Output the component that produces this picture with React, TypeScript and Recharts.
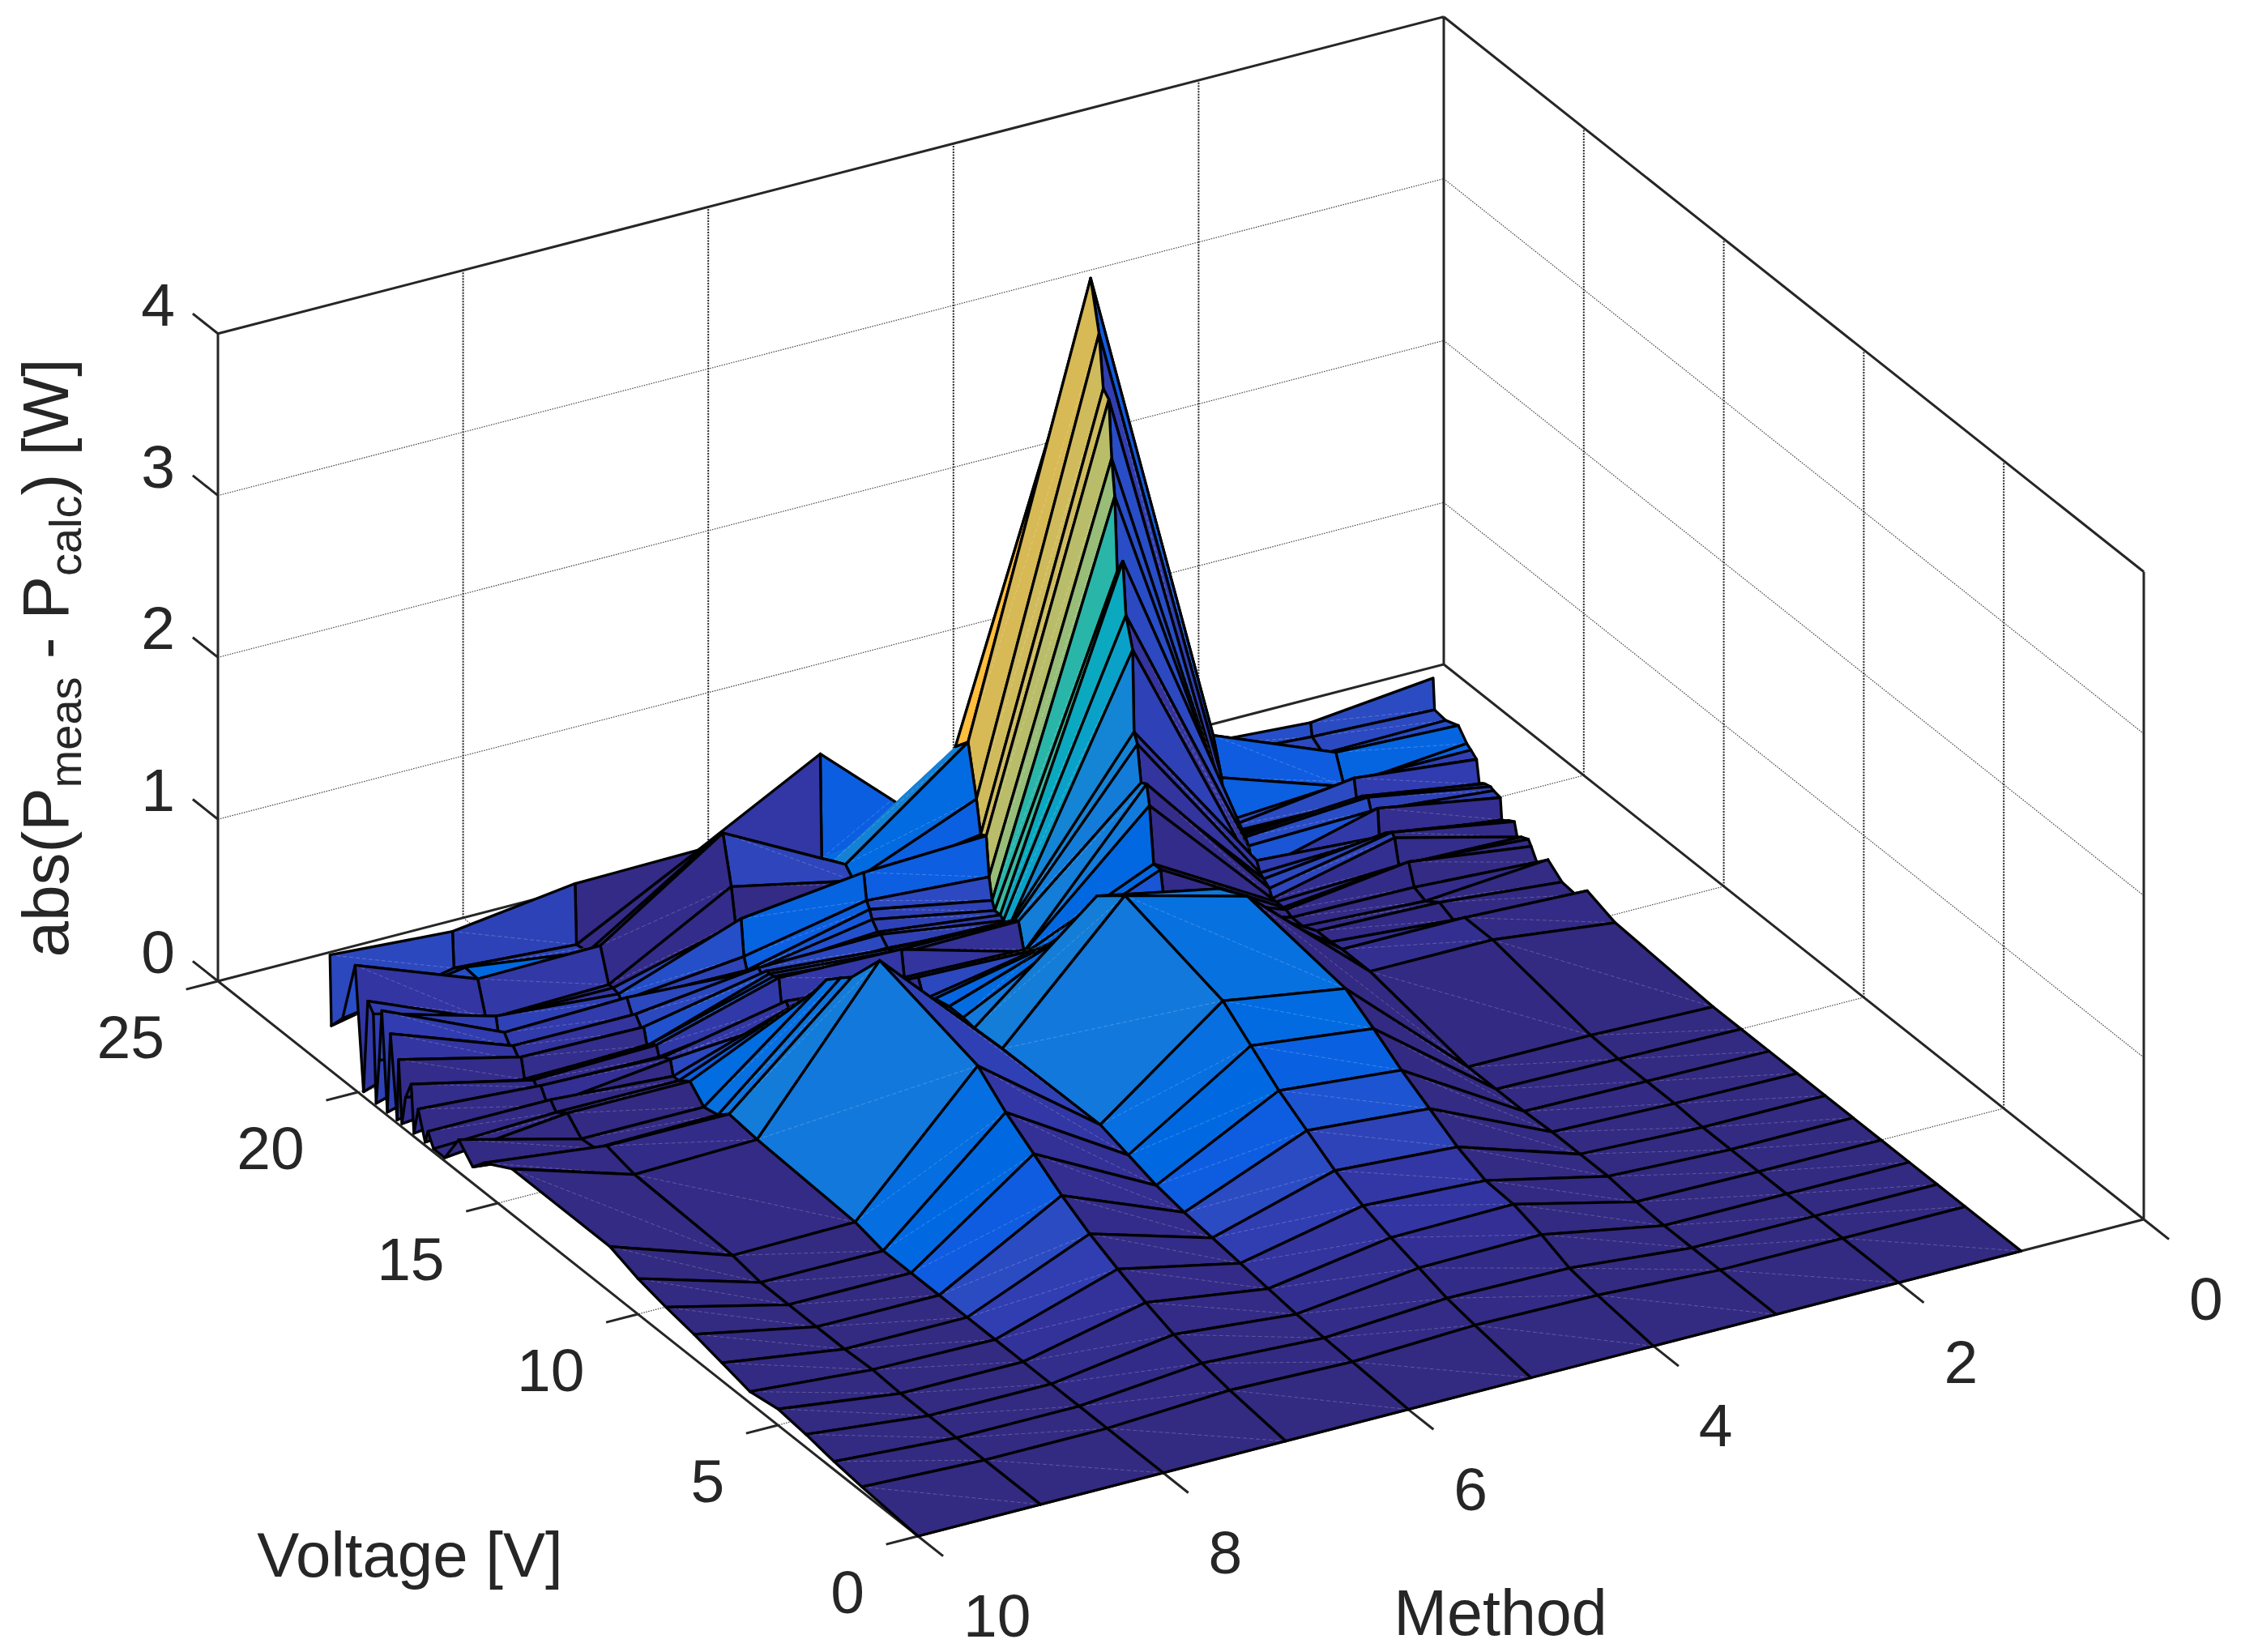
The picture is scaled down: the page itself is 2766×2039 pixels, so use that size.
import React from 'react';
import { ScatterChart, Scatter, XAxis, YAxis } from 'recharts';

const WIDTH = 2766;
const HEIGHT = 2039;

// grid of the surface
const methods = [1, 2, 3, 4, 5, 6, 7, 8, 9, 10];
const voltages = [0, 2, 3, 4, 5, 6, 7, 8, 9, 10, 11, 14.5, 15.5, 15.9, 16.4, 16.9, 17.3, 17.5, 17.6, 17.85, 18, 18.1, 18.3, 18.43, 18.55, 18.6, 18.84, 18.95, 19.15, 19.24, 19.35, 19.45, 19.65, 19.8, 20.1, 20.55, 20.95, 21];

// abs(Pmeas - Pcalc) per method, one value per voltage above
const method1 = [0, 0, 0, 0, 0, 0, 0, 0, 0, 0, 0, 0.04, 0.1, 0.02, 0.03, 0.1, 0.03, 0.1, 0.13, 0.11, 0.09, 0.17, 0.15, 0.13, 0.12, 0.25, 0.26, 0.27, 0.26, 0.25, 0.23, 0.37, 0.4, 0.42, 0.49, 0.46, 0.47, 0.66];
const method2 = [0, 0, 0, 0, 0, 0, 0, 0.01, 0.01, 0.01, 0.02, 0.13, 0.13, 0.06, 0.1, 0.04, 0.07, 0.2, 0.18, 0.13, 0.28, 0.3, 0.27, 0.23, 0.21, 0.38, 0.33, 0.4, 0.38, 0.35, 0.32, 0.45, 0.4, 0.35, 0.52, 0.45, 0.5, 0.58];
const method3 = [0, 0, 0, 0, 0.01, 0.03, 0.03, 0.03, 0.02, 0.02, 0.02, 0.13, 0.13, 0.12, 0.12, 0.08, 0.08, 0.1, 0.1, 0.1, 0.1, 0.15, 0.18, 0.2, 0.26, 0.18, 0.31, 0.35, 0.33, 0.33, 0.33, 0.35, 0.35, 0.6, 0.82, 0.52, 0.55, 0.63];
const method4 = [0, 0.04, 0.07, 0.14, 0.19, 0.2, 0.27, 0.37, 0.47, 0.59, 0.7, 0.79, 0.7, 0.6, 0.55, 0.45, 0.3, 0.38, 0.53, 0.53, 0.87, 0.99, 0.97, 1.19, 1.25, 1.75, 1.93, 2.25, 2.16, 2.61, 2.83, 3.18, 3.22, 3.54, 3.84, 3.4, 0.8, 0.6];
const method5 = [0, 0.05, 0.08, 0.13, 0.18, 0.24, 0.32, 0.43, 0.54, 0.68, 0.82, 0.99, 0.85, 0.62, 0.5, 0.38, 0.3, 0.25, 0.22, 0.2, 0.18, 0.15, 0.31, 0.3, 0.28, 0.25, 0.24, 0.26, 0.26, 0.31, 0.44, 0.68, 0.66, 0.86, 1.17, 1.08, 0.65, 0.49];
const method6 = [0, 0.02, 0.03, 0.04, 0.06, 0.08, 0.1, 0.12, 0.15, 0.2, 0.25, 0.24, 0.23, 0.24, 0.24, 0.22, 0.16, 0.27, 0.2, 0.2, 0.2, 0.36, 0.3, 0.3, 0.3, 0.3, 0.35, 0.35, 0.4, 0.45, 0.49, 0.65, 0.55, 0.55, 0.61, 0.57, 0.53, 1.17];
const method7 = [0, 0.04, 0.07, 0.11, 0.17, 0.24, 0.32, 0.42, 0.54, 0.66, 0.81, 0.98, 0.74, 0.68, 0.6, 0.45, 0.35, 0.3, 0.2, 0.27, 0.21, 0.38, 0.36, 0.36, 0.36, 0.3, 0.34, 0.3, 0.27, 0.27, 0.34, 0.56, 0.5, 0.71, 1.0, 0.88, 0.78, 0.77];
const method8 = [0, 0, 0, 0, 0, 0, 0, 0, 0, 0, 0.04, 0.07, 0.09, 0.03, 0.01, 0.1, 0.05, 0.05, 0.14, 0.12, 0.1, 0.16, 0.14, 0.11, 0.21, 0.18, 0.25, 0.22, 0.31, 0.28, 0.26, 0.29, 0.3, 0.3, 0.5, 0.4, 0.39, 0.76];
const method9 = [0, 0, 0, 0, 0, 0.01, 0, 0, 0, 0, 0.03, 0.05, 0.09, 0.02, 0.01, 0.1, 0.05, 0.1, 0.05, 0.14, 0.11, 0.14, 0.12, 0.1, 0.22, 0.19, 0.25, 0.23, 0.29, 0.26, 0.24, 0.35, 0.3, 0.28, 0.49, 0.5, 0.44, 0.66];
const method10 = [0, 0.03, 0.05, 0.08, 0.1, 0.07, 0.11, 0.15, 0.18, 0.22, 0.28, 0.28, 0.18, 0.1, 0.2, 0.02, 0.02, 0.1, 0.02, 0.19, 0.02, 0.31, 0.2, 0.02, 0.4, 0.02, 0.52, 0.02, 0.62, 0.3, 0.02, 0.56, 0.61, 0.03, 0.77, 0.38, 0.28, 0.71];
const surfaceZ = [method1, method2, method3, method4, method5, method6, method7, method8, method9, method10];

// axis ticks
const methodTicks = [0, 2, 4, 6, 8, 10];
const voltageTicks = [0, 5, 10, 15, 20, 25];
const powerTicks = [0, 1, 2, 3, 4];

// row edges that the reference does not stroke, "method:voltage"
const unlinedEdges = ['5:20.95', '5:20.55', '6:20.95', '6:20.55'];
// facets whose colour does not follow their height, "method:voltage" -> level
const facetLevels: Record<string, number> = {
  '5:20.55': 0.62,
  '6:20.95': 0.2,
  '6:20.55': 0.2,
  '6:20.1': 0.2,
  '6:19.8': 0.28,
  '6:19.65': 0.05,
  '6:19.45': 0.5,
  '7:20.95': 0.05,
  '7:20.55': 0.05,
  '7:20.1': 0.05,
  '7:19.8': 0.1,
  '7:19.65': 0.1,
  '7:19.45': 0.3,
  '8:20.1': 0.55,
  '1:19.8': 0.5,
  '1:19.65': 0.48,
  '2:19.8': 0.42,
  '2:19.65': 0.45,
};
// the far rows read darker than their height
const farRowVoltage = 19.4;
const farRowShade = 0.68;

// colormap of the picture: level -> rgb
const colorLevels = [0, 0.1, 0.17, 0.24, 0.32, 0.42, 0.54, 0.66, 0.81, 1.2, 1.6, 1.95, 2.25, 2.7, 3.1, 3.55, 3.75];
const colorStops = [
  [51, 42, 130], [51, 44, 138], [51, 50, 155], [48, 62, 178], [43, 75, 195], [15, 92, 225],
  [0, 105, 225], [5, 110, 225], [18, 120, 220], [20, 130, 212], [10, 155, 210], [10, 170, 190],
  [55, 185, 160], [175, 190, 110], [205, 188, 95], [215, 185, 85], [255, 190, 60],
];

const colorOf = (level: number) => {
  let i = 0;
  while (i < colorLevels.length - 2 && level > colorLevels[i + 1]) i++;
  const t = Math.min(1, Math.max(0, (level - colorLevels[i]) / (colorLevels[i + 1] - colorLevels[i])));
  const c = colorStops[i].map((v, k) => Math.round(v + (colorStops[i + 1][k] - v) * t));
  return `rgb(${c[0]},${c[1]},${c[2]})`;
};

// orthographic view of the 3d box, in picture units
const project = (m: number, v: number, z: number) => ({
  x: 2646 - 151.3 * m - 34.56 * v,
  y: 1505 + 39.1 * m - 27.4 * v - 199.8 * z,
});

// surface facets, painted from the far corner to the near one
const facetPoints: { x: number; y: number }[] = [];
const facetColors: string[] = [];
const facetTopLined: boolean[] = [];
const facetBottomLined: boolean[] = [];
methods.slice(0, -1).forEach((m, mi) => {
  for (let vi = voltages.length - 2; vi >= 0; vi--) {
    const lo = voltages[vi];
    const hi = voltages[vi + 1];
    facetPoints.push(
      project(m, hi, surfaceZ[mi][vi + 1]),
      project(m + 1, hi, surfaceZ[mi + 1][vi + 1]),
      project(m + 1, lo, surfaceZ[mi + 1][vi]),
      project(m, lo, surfaceZ[mi][vi]),
    );
    const height = surfaceZ[mi][vi];
    const shaded = lo > farRowVoltage && height < 1 ? height * farRowShade : height;
    facetColors.push(colorOf(facetLevels[`${m}:${lo}`] ?? shaded));
    facetTopLined.push(!unlinedEdges.includes(`${m}:${hi}`));
    facetBottomLined.push(!unlinedEdges.includes(`${m}:${lo}`));
  }
});

const segment = (a: { x: number; y: number }, b: { x: number; y: number }) => [a, b];

// dotted grid: upright lines on the walls read darker than the slanted ones
const gridUpright = [
  ...methodTicks.slice(1, -1).flatMap((m) => segment(project(m, 25, 0), project(m, 25, 4))),
  ...voltageTicks.slice(1, -1).flatMap((v) => segment(project(0, v, 0), project(0, v, 4))),
];
const gridSlanted = [
  ...methodTicks.slice(1, -1).flatMap((m) => segment(project(m, 0, 0), project(m, 25, 0))),
  ...voltageTicks.slice(1, -1).flatMap((v) => segment(project(0, v, 0), project(10, v, 0))),
  ...powerTicks.slice(1, -1).flatMap((z) => [
    ...segment(project(10, 25, z), project(0, 25, z)),
    ...segment(project(0, 25, z), project(0, 0, z)),
  ]),
];

// box outline and tick marks
const boxPoints = [
  ...segment(project(10, 25, 0), project(10, 25, 4)),
  ...segment(project(10, 25, 4), project(0, 25, 4)),
  ...segment(project(0, 25, 4), project(0, 0, 4)),
  ...segment(project(0, 0, 4), project(0, 0, 0)),
  ...segment(project(0, 25, 4), project(0, 25, 0)),
  ...segment(project(10, 25, 0), project(0, 25, 0)),
  ...segment(project(0, 25, 0), project(0, 0, 0)),
  ...segment(project(10, 25, 0), project(10, 0, 0)),
  ...segment(project(10, 0, 0), project(0, 0, 0)),
  ...powerTicks.flatMap((z) => segment(project(10, 25, z), project(10, 25.9, z))),
  ...voltageTicks.flatMap((v) => segment(project(10, v, 0), project(10.26, v, 0))),
  ...methodTicks.flatMap((m) => segment(project(m, 0, 0), project(m, -0.9, 0))),
];

const powerLabels = powerTicks.map((z) => {
  const p = project(10, 25, z);
  return { x: p.x - 74, y: p.y - 36, label: String(z), anchor: 'middle', size: 75 };
});
const voltageLabels = voltageTicks.map((v) => {
  const p = project(10, v, 0);
  return { x: p.x - 66, y: p.y + 69, label: String(v), anchor: 'end', size: 75 };
});
const methodLabels = methodTicks.map((m) => {
  const p = project(m, 0, 0);
  return { x: p.x + 56, y: p.y + 98, label: String(m), anchor: 'start', size: 75 };
});
const tickLabels = [...powerLabels, ...voltageLabels, ...methodLabels];
const axisTitles = [
  { x: 506, y: 1919, label: 'Voltage [V]', anchor: 'middle', size: 78 },
  { x: 1852, y: 1990, label: 'Method', anchor: 'middle', size: 79 },
];

const FONT = '"Liberation Sans", Arial, sans-serif';
const TEXT_COLOR = '#262626';

const drawSegments = (stroke: string, width: number, dash?: string) => (props: any) => {
  const pts = props.points as { x: number; y: number }[];
  let d = '';
  for (let i = 0; i + 1 < pts.length; i += 2) {
    d += `M${pts[i].x} ${pts[i].y}L${pts[i + 1].x} ${pts[i + 1].y}`;
  }
  return <path d={d} fill="none" stroke={stroke} strokeWidth={width} strokeDasharray={dash} />;
};

const drawFacets = (props: any) => {
  const pts = props.points as { x: number; y: number }[];
  const items = [];
  for (let i = 0; i * 4 < pts.length; i++) {
    const [a, b, c, d] = pts.slice(i * 4, i * 4 + 4);
    let edges = `M${b.x} ${b.y}L${c.x} ${c.y}M${d.x} ${d.y}L${a.x} ${a.y}`;
    if (facetTopLined[i]) edges += `M${a.x} ${a.y}L${b.x} ${b.y}`;
    if (facetBottomLined[i]) edges += `M${c.x} ${c.y}L${d.x} ${d.y}`;
    items.push(
      <g key={i}>
        <path
          d={`M${a.x} ${a.y}L${b.x} ${b.y}L${c.x} ${c.y}L${d.x} ${d.y}Z`}
          fill={facetColors[i]}
          stroke={facetColors[i]}
          strokeWidth={0.6}
        />
        <path d={`M${b.x} ${b.y}L${d.x} ${d.y}`} stroke="rgba(255,255,255,0.28)" strokeWidth={0.8} strokeDasharray="5 3" />
        <path d={edges} fill="none" stroke="#000" strokeWidth={3.3} strokeLinecap="round" strokeLinejoin="round" />
      </g>,
    );
  }
  return <g>{items}</g>;
};

const noDot = () => <g />;

const drawLabel = (props: any) => (
  <text
    x={props.cx}
    y={props.cy}
    textAnchor={props.payload.anchor}
    dominantBaseline="central"
    fontFamily={FONT}
    fontSize={props.payload.size}
    fill={TEXT_COLOR}
  >
    {props.payload.label}
  </text>
);

const yTitle = [{ x: 56, y: 812 }];

const drawYTitle = (props: any) => (
  <text
    x={props.cx}
    y={props.cy}
    transform={`rotate(-90 ${props.cx} ${props.cy})`}
    textAnchor="middle"
    dominantBaseline="central"
    fontFamily={FONT}
    fontSize={80}
    fill={TEXT_COLOR}
  >
    abs(P
    <tspan dy={24} fontSize={56}>meas</tspan>
    <tspan dy={-24}> - P</tspan>
    <tspan dy={24} fontSize={56}>calc</tspan>
    <tspan dy={-24}>) [W]</tspan>
  </text>
);

export default function App() {
  return (
    <div style={{ position: 'absolute', left: 0, top: 0, width: WIDTH, height: HEIGHT, background: '#fff' }}>
      <ScatterChart width={WIDTH} height={HEIGHT} margin={{ top: 0, right: 0, bottom: 0, left: 0 }}>
        <XAxis type="number" dataKey="x" domain={[0, WIDTH]} hide />
        <YAxis type="number" dataKey="y" domain={[0, HEIGHT]} reversed hide />
        <Scatter data={gridSlanted} shape={noDot} line={drawSegments('#444', 1.2, '1.5 1.5')} isAnimationActive={false} />
        <Scatter data={gridUpright} shape={noDot} line={drawSegments('#262626', 2, '2 1.5')} isAnimationActive={false} />
        <Scatter data={boxPoints} shape={noDot} line={drawSegments('#262626', 3)} isAnimationActive={false} />
        <Scatter data={facetPoints} shape={noDot} line={drawFacets} isAnimationActive={false} />
        <Scatter data={tickLabels} shape={drawLabel} isAnimationActive={false} />
        <Scatter data={axisTitles} shape={drawLabel} isAnimationActive={false} />
        <Scatter data={yTitle} shape={drawYTitle} isAnimationActive={false} />
      </ScatterChart>
    </div>
  );
}
